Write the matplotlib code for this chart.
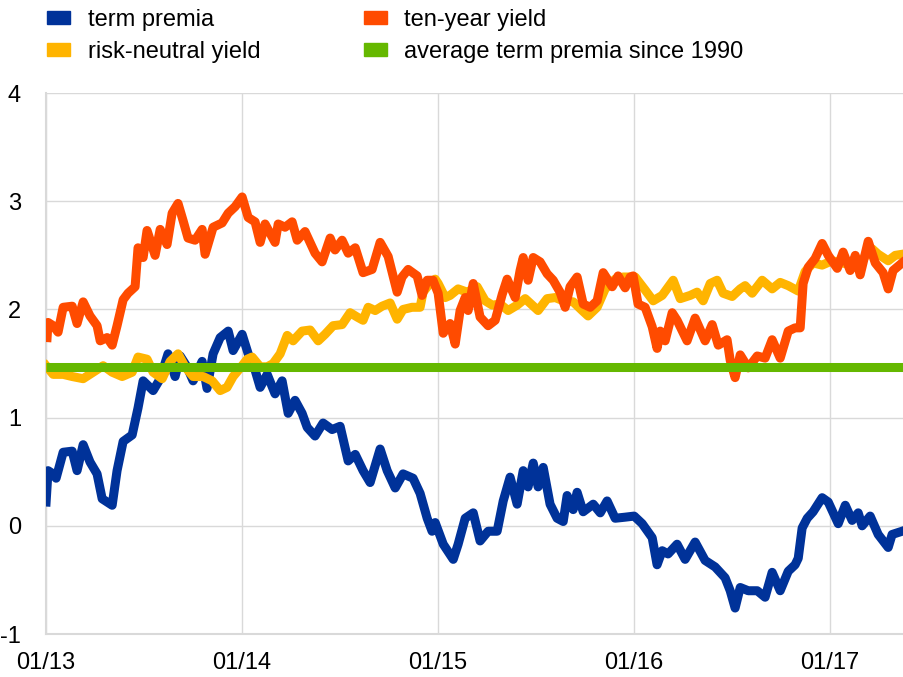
import matplotlib
matplotlib.use('Agg')
import matplotlib.pyplot as plt
import matplotlib.patches as mpatches
import numpy as np

plt.rcParams['font.family'] = ['Liberation Sans', 'DejaVu Sans']
plt.rcParams['axes.unicode_minus'] = False

# decimal-year positions, values in %
tp_t = [2013.000, 2013.010, 2013.036, 2013.051, 2013.087, 2013.133, 2013.158, 2013.189, 2013.224, 2013.260,
        2013.286, 2013.337, 2013.362, 2013.393, 2013.439, 2013.469, 2013.495, 2013.546, 2013.582, 2013.622,
        2013.658, 2013.684, 2013.719, 2013.750, 2013.796, 2013.821, 2013.852, 2013.888, 2013.929, 2013.954,
        2014.000, 2014.031, 2014.066, 2014.092, 2014.128, 2014.168, 2014.204, 2014.235, 2014.270, 2014.306,
        2014.332, 2014.372, 2014.413, 2014.459, 2014.500, 2014.541, 2014.577, 2014.617, 2014.653, 2014.704,
        2014.740, 2014.781, 2014.821, 2014.872, 2014.908, 2014.944, 2014.969, 2014.985, 2015.026, 2015.077,
        2015.102, 2015.138, 2015.179, 2015.214, 2015.255, 2015.301, 2015.332, 2015.367, 2015.403, 2015.434,
        2015.459, 2015.485, 2015.510, 2015.536, 2015.571, 2015.607, 2015.638, 2015.658, 2015.689, 2015.709,
        2015.740, 2015.791, 2015.827, 2015.862, 2015.903, 2015.954, 2016.000, 2016.041, 2016.092, 2016.117,
        2016.143, 2016.173, 2016.219, 2016.260, 2016.311, 2016.362, 2016.413, 2016.464, 2016.490, 2016.515,
        2016.541, 2016.582, 2016.628, 2016.668, 2016.704, 2016.745, 2016.786, 2016.821, 2016.837, 2016.857,
        2016.883, 2016.913, 2016.959, 2016.990, 2017.041, 2017.077, 2017.112, 2017.143, 2017.163, 2017.204,
        2017.245, 2017.296, 2017.316, 2017.367]
term_premia = [0.22, 0.51, 0.48, 0.44, 0.68, 0.69, 0.51, 0.75, 0.59, 0.48,
               0.25, 0.19, 0.51, 0.78, 0.84, 1.09, 1.34, 1.25, 1.36, 1.59,
               1.38, 1.57, 1.47, 1.34, 1.52, 1.27, 1.59, 1.74, 1.80, 1.62,
               1.77, 1.59, 1.44, 1.28, 1.40, 1.22, 1.34, 1.04, 1.16, 1.04,
               0.91, 0.83, 0.95, 0.89, 0.92, 0.60, 0.66, 0.51, 0.40, 0.71,
               0.51, 0.35, 0.48, 0.44, 0.30, 0.07, -0.05, 0.03, -0.17, -0.31,
               -0.17, 0.07, 0.12, -0.14, -0.05, -0.05, 0.23, 0.45, 0.20, 0.51,
               0.36, 0.58, 0.36, 0.54, 0.20, 0.07, 0.04, 0.28, 0.15, 0.31,
               0.13, 0.20, 0.12, 0.23, 0.07, 0.08, 0.09, 0.02, -0.11, -0.36,
               -0.23, -0.26, -0.17, -0.31, -0.15, -0.32, -0.38, -0.48, -0.60, -0.76,
               -0.57, -0.60, -0.60, -0.66, -0.43, -0.60, -0.42, -0.36, -0.30, -0.02,
               0.07, 0.13, 0.26, 0.22, 0.02, 0.19, 0.05, 0.12, 0.00, 0.09,
               -0.08, -0.20, -0.08, -0.05]

ty_t = [2013.005, 2013.010, 2013.036, 2013.061, 2013.087, 2013.133, 2013.158, 2013.189, 2013.224, 2013.260,
        2013.276, 2013.311, 2013.337, 2013.362, 2013.393, 2013.418, 2013.454, 2013.469, 2013.495, 2013.515,
        2013.556, 2013.582, 2013.617, 2013.643, 2013.673, 2013.699, 2013.724, 2013.760, 2013.796, 2013.811,
        2013.852, 2013.898, 2013.929, 2013.964, 2014.000, 2014.031, 2014.066, 2014.092, 2014.117, 2014.168,
        2014.184, 2014.219, 2014.255, 2014.281, 2014.321, 2014.372, 2014.408, 2014.449, 2014.474, 2014.510,
        2014.541, 2014.577, 2014.617, 2014.663, 2014.704, 2014.745, 2014.791, 2014.816, 2014.847, 2014.893,
        2014.918, 2014.944, 2014.974, 2015.000, 2015.026, 2015.036, 2015.061, 2015.087, 2015.112, 2015.138,
        2015.153, 2015.179, 2015.214, 2015.255, 2015.291, 2015.327, 2015.352, 2015.393, 2015.418, 2015.434,
        2015.459, 2015.485, 2015.520, 2015.556, 2015.587, 2015.622, 2015.648, 2015.673, 2015.709, 2015.740,
        2015.776, 2015.811, 2015.842, 2015.888, 2015.918, 2015.954, 2015.980, 2015.995, 2016.020, 2016.056,
        2016.092, 2016.117, 2016.133, 2016.158, 2016.194, 2016.219, 2016.270, 2016.311, 2016.362, 2016.398,
        2016.429, 2016.474, 2016.490, 2016.515, 2016.541, 2016.582, 2016.628, 2016.668, 2016.704, 2016.745,
        2016.786, 2016.821, 2016.847, 2016.862, 2016.888, 2016.923, 2016.959, 2016.990, 2017.036, 2017.066,
        2017.102, 2017.128, 2017.153, 2017.194, 2017.230, 2017.270, 2017.296, 2017.321, 2017.367]
ten_year = [1.74, 1.88, 1.85, 1.79, 2.02, 2.03, 1.87, 2.07, 1.94, 1.85,
            1.71, 1.74, 1.67, 1.85, 2.09, 2.15, 2.21, 2.57, 2.48, 2.73,
            2.50, 2.74, 2.60, 2.89, 2.98, 2.82, 2.66, 2.64, 2.74, 2.51,
            2.76, 2.80, 2.89, 2.95, 3.04, 2.85, 2.81, 2.62, 2.79, 2.62,
            2.79, 2.76, 2.81, 2.64, 2.72, 2.52, 2.44, 2.66, 2.55, 2.64,
            2.52, 2.57, 2.34, 2.37, 2.62, 2.49, 2.16, 2.30, 2.37, 2.31,
            2.13, 2.27, 2.27, 2.15, 1.78, 1.81, 1.87, 1.68, 1.99, 2.11,
            1.99, 2.24, 1.93, 1.85, 1.90, 2.14, 2.28, 2.11, 2.36, 2.48,
            2.27, 2.48, 2.44, 2.33, 2.27, 2.16, 2.02, 2.21, 2.30, 2.05,
            2.02, 2.08, 2.34, 2.21, 2.31, 2.20, 2.30, 2.31, 2.05, 2.02,
            1.84, 1.64, 1.80, 1.71, 1.97, 1.90, 1.71, 1.92, 1.71, 1.86,
            1.67, 1.72, 1.53, 1.37, 1.58, 1.46, 1.57, 1.55, 1.72, 1.55,
            1.80, 1.83, 1.83, 2.24, 2.39, 2.47, 2.61, 2.50, 2.38, 2.53,
            2.36, 2.50, 2.32, 2.63, 2.43, 2.34, 2.19, 2.36, 2.43]

rn_t = [2013.000, 2013.036, 2013.087, 2013.133, 2013.189, 2013.240, 2013.291, 2013.337, 2013.388, 2013.439,
        2013.469, 2013.515, 2013.546, 2013.592, 2013.633, 2013.673, 2013.709, 2013.750, 2013.801, 2013.847,
        2013.888, 2013.923, 2013.954, 2014.000, 2014.026, 2014.051, 2014.092, 2014.128, 2014.158, 2014.194,
        2014.230, 2014.260, 2014.306, 2014.347, 2014.388, 2014.423, 2014.464, 2014.510, 2014.551, 2014.587,
        2014.617, 2014.643, 2014.679, 2014.714, 2014.755, 2014.791, 2014.821, 2014.867, 2014.908, 2014.923,
        2014.949, 2014.985, 2015.000, 2015.036, 2015.061, 2015.102, 2015.148, 2015.199, 2015.240, 2015.276,
        2015.316, 2015.357, 2015.403, 2015.444, 2015.480, 2015.510, 2015.556, 2015.597, 2015.638, 2015.689,
        2015.735, 2015.765, 2015.811, 2015.852, 2015.903, 2015.944, 2016.005, 2016.056, 2016.097, 2016.143,
        2016.199, 2016.235, 2016.286, 2016.321, 2016.352, 2016.388, 2016.423, 2016.454, 2016.500, 2016.541,
        2016.566, 2016.602, 2016.653, 2016.704, 2016.745, 2016.786, 2016.837, 2016.872, 2016.913, 2016.959,
        2017.010, 2017.061, 2017.112, 2017.163, 2017.214, 2017.245, 2017.296, 2017.332, 2017.367]
risk_neutral = [1.48, 1.40, 1.40, 1.38, 1.36, 1.42, 1.48, 1.42, 1.38, 1.42,
                1.56, 1.54, 1.42, 1.36, 1.52, 1.59, 1.47, 1.38, 1.38, 1.34,
                1.25, 1.28, 1.38, 1.48, 1.54, 1.56, 1.47, 1.47, 1.50, 1.59,
                1.76, 1.71, 1.80, 1.81, 1.71, 1.77, 1.85, 1.86, 1.97, 1.93,
                1.90, 2.02, 1.99, 2.03, 2.06, 1.91, 2.00, 2.02, 2.02, 2.16,
                2.22, 2.28, 2.24, 2.11, 2.13, 2.19, 2.16, 2.21, 2.08, 2.04,
                2.05, 1.99, 2.04, 2.10, 2.04, 1.99, 2.10, 2.11, 2.08, 2.07,
                1.99, 1.94, 2.02, 2.19, 2.28, 2.30, 2.30, 2.18, 2.08, 2.13,
                2.27, 2.10, 2.13, 2.16, 2.08, 2.24, 2.27, 2.15, 2.12, 2.19,
                2.22, 2.15, 2.27, 2.19, 2.25, 2.22, 2.17, 2.35, 2.43, 2.41,
                2.45, 2.43, 2.41, 2.46, 2.56, 2.51, 2.45, 2.50, 2.51]

avg_tp = 1.47
x_start, x_end = 2013.0, 2017.372
year_ticks = [2013, 2014, 2015, 2016, 2017]
year_labels = ['01/13', '01/14', '01/15', '01/16', '01/17']

c_blue = '#003299'
c_orange = '#FF4B00'
c_yellow = '#FFB400'
c_green = '#65B800'

fig = plt.figure(figsize=(9.04, 6.77), dpi=100)
ax = fig.add_axes([0.051, 0.0635, 0.948, 0.799])

lw = 6.5
ax.plot(tp_t, term_premia, color=c_blue, lw=lw, solid_joinstyle='round', zorder=3)
ax.plot(rn_t, risk_neutral, color=c_yellow, lw=lw, solid_joinstyle='round', zorder=4)
ax.plot(ty_t, ten_year, color=c_orange, lw=lw, solid_joinstyle='round', zorder=5)
ax.plot([x_start, x_end], [avg_tp, avg_tp], color=c_green, lw=lw, solid_capstyle='butt', zorder=6)

ax.set_xlim(x_start, x_end)
ax.set_ylim(-1, 4)
ax.set_yticks(range(-1, 5))
ax.set_xticks(year_ticks)
ax.set_xticklabels(year_labels)
ax.grid(True, color='#D9D9D9', lw=1.0, zorder=0)
ax.set_axisbelow(True)
for s in ['top', 'right']:
    ax.spines[s].set_visible(False)
for s in ['left', 'bottom']:
    ax.spines[s].set_color('#D9D9D9')
    ax.spines[s].set_linewidth(1.5)
ax.tick_params(axis='both', length=0, labelsize=17, colors='black')
ax.tick_params(axis='y', pad=18)
ax.tick_params(axis='x', pad=13)

handles = [mpatches.Patch(color=c_blue, label='term premia'),
           mpatches.Patch(color=c_yellow, label='risk-neutral yield'),
           mpatches.Patch(color=c_orange, label='ten-year yield'),
           mpatches.Patch(color=c_green, label='average term premia since 1990')]
fig.legend(handles=handles, loc='upper left', bbox_to_anchor=(0.029, 1.018), ncol=2,
           frameon=False, fontsize=17, handlelength=0.95, handleheight=0.5,
           handletextpad=0.75, columnspacing=4.4, labelspacing=0.42)

fig.savefig('out.png', dpi=100)
